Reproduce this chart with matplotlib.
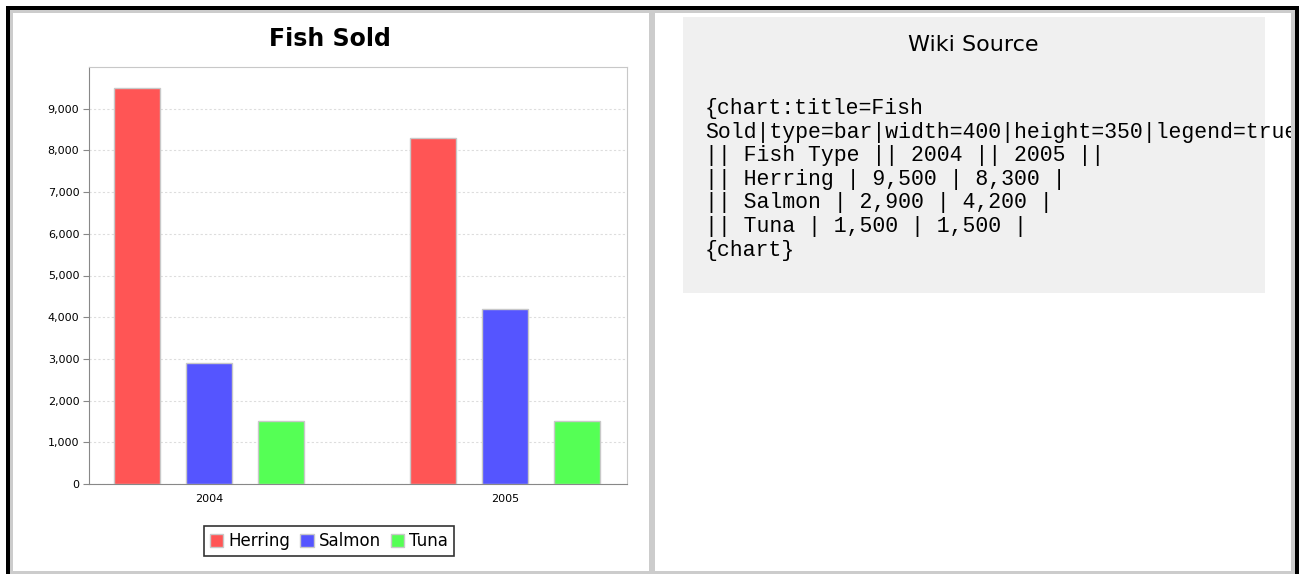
"""
Fish Sold bar chart next to its wiki source panel.
"""

import matplotlib.pyplot as plt
import numpy as np
from matplotlib.patches import Rectangle

# chart data
years = ["2004", "2005"]
fish = ["Herring", "Salmon", "Tuna"]
herring = [9500, 8300]
salmon = [2900, 4200]
tuna = [1500, 1500]
colors = ["#ff5555", "#5555ff", "#55ff55"]
y_ticks = np.arange(0, 10000, 1000)

# wiki markup shown on the right
source_lines = [
    "{chart:title=Fish",
    "Sold|type=bar|width=400|height=350|legend=true",
    "|| Fish Type || 2004 || 2005 ||",
    "|| Herring | 9,500 | 8,300 |",
    "|| Salmon | 2,900 | 4,200 |",
    "|| Tuna | 1,500 | 1,500 |",
    "{chart}",
]

W, H = 1302, 574
fig = plt.figure(figsize=(W / 100, H / 100), dpi=100)

# background frame, in pixel coords
bg = fig.add_axes([0, 0, 1, 1])
bg.set_xlim(0, W)
bg.set_ylim(H, 0)
bg.axis("off")
bg.add_patch(Rectangle((6, 6), 1293, 600, facecolor="black", lw=0))
bg.add_patch(Rectangle((10, 10), 1285, 600, facecolor="#cccccc", lw=0))
bg.add_patch(Rectangle((13, 13), 636, 558, facecolor="white", lw=0))
bg.add_patch(Rectangle((655, 13), 636, 558, facecolor="white", lw=0))

# the bar chart
ax = fig.add_axes([89 / W, (H - 484) / H, 538 / W, 417 / H])
x = np.arange(len(years))
step = 72 / 296
width = 46 / 296
for i, (name, vals) in enumerate(zip(fish, [herring, salmon, tuna])):
    ax.bar(x + (i - 1) * step, vals, width, color=colors[i], label=name,
           edgecolor="#c8c8c8", linewidth=1, zorder=3)

ax.set_xlim(-0.405, 1.412)
ax.set_ylim(0, 10000)
ax.set_yticks(y_ticks)
ax.set_yticklabels([f"{v:,}" for v in y_ticks])
ax.set_xticks(x)
ax.set_xticklabels(years)
ax.tick_params(axis="y", length=4, color="#888888", labelsize=8, pad=3)
ax.tick_params(axis="x", length=0, labelsize=8, pad=7)
ax.grid(axis="y", color="#dddddd", linestyle=(0, (2, 2)), linewidth=0.8, zorder=0)
ax.spines["left"].set_color("#888888")
ax.spines["bottom"].set_color("#888888")
ax.spines["top"].set_color("#c8c8c8")
ax.spines["right"].set_color("#c8c8c8")

fig.text(330 / W, 1 - 39 / H, "Fish Sold", ha="center", va="center",
         fontsize=17, fontweight="bold")

leg = ax.legend(loc="center", bbox_to_anchor=(329 / W, 1 - 541 / H),
                bbox_transform=fig.transFigure, ncol=3, fontsize=12,
                handlelength=0.8, handleheight=0.8, handletextpad=0.3,
                columnspacing=0.6, borderpad=0.35, fancybox=False,
                borderaxespad=0)
leg.get_frame().set_edgecolor("black")
leg.get_frame().set_linewidth(1.2)
for h in leg.legend_handles:
    h.set_edgecolor("#c8c8c8")

# right panel with the wiki source
rp = fig.add_axes([655 / W, (H - 571) / H, 636 / W, 558 / H])
rp.set_xlim(655, 1291)
rp.set_ylim(571, 13)
rp.axis("off")
rp.add_patch(Rectangle((683, 17), 582, 276, facecolor="#f0f0f0", lw=0))
rp.text(973, 45, "Wiki Source", ha="center", va="center", fontsize=16)
for k, line in enumerate(source_lines):
    rp.text(705, 114 + k * 23.6, line, ha="left", va="baseline",
            family="Liberation Mono", fontsize=15.5, clip_on=True)

fig.savefig("out.png", dpi=100)
